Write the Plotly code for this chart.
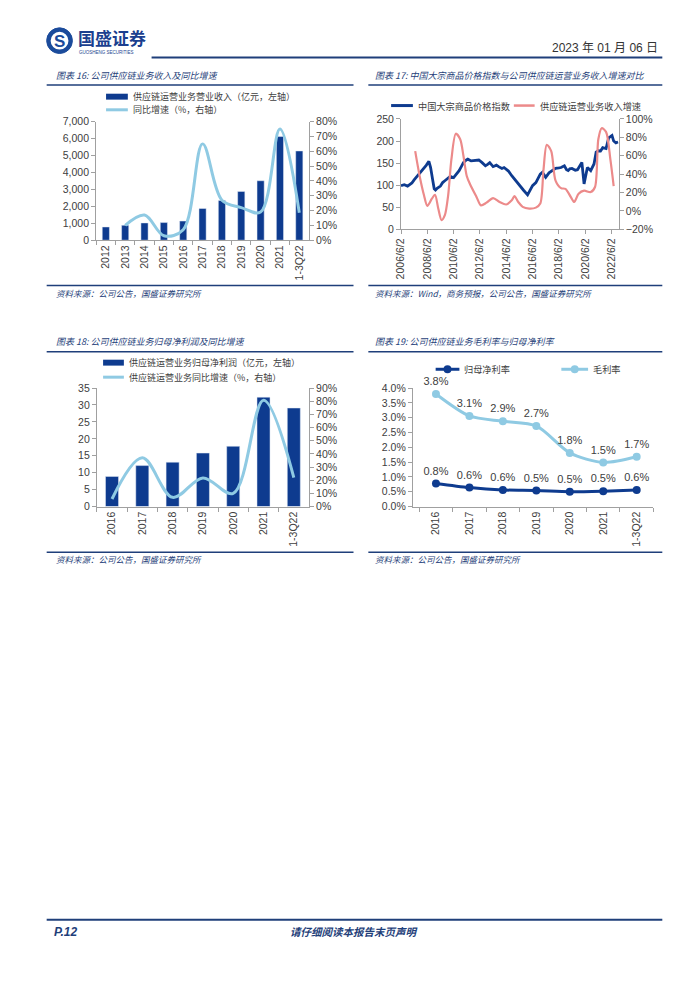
import plotly.graph_objects as go

# The page body adds an 8px margin around the figure, so the figure is sized
# to fit inside the 700x990 window and positions are given in page pixels.
PAGE_W, PAGE_H = 700, 990
OFF = 8
W, H = PAGE_W - 2 * OFF, PAGE_H - 2 * OFF


def px(x):
    return (x - OFF) / W


def py(y):
    return 1 - (y - OFF) / H


# ---------------- DATA ----------------
# Chart 16
years16 = ["2012", "2013", "2014", "2015", "2016", "2017", "2018", "2019", "2020", "2021", "1-3Q22"]
revenue16 = [780, 880, 1020, 1040, 1130, 1870, 2350, 2880, 3510, 6120, 5270]
growth16 = [None, 10, 17, 3, 7, 65, 27, 22, 19, 75, 18.5]

# Chart 17
cpi_dates = [
    "2006-06-02", "2006-09-01", "2006-12-01", "2007-02-01", "2007-04-01", "2007-06-01", "2007-09-01",
    "2007-12-01", "2008-03-01", "2008-05-01", "2008-07-15", "2008-09-01", "2008-11-01", "2008-12-10",
    "2009-01-15", "2009-03-01", "2009-06-01", "2009-08-01", "2009-10-01", "2010-01-01", "2010-03-01",
    "2010-06-01", "2010-09-01", "2010-11-01", "2011-01-01", "2011-03-01", "2011-05-01", "2011-07-01",
    "2011-10-01", "2012-02-01", "2012-05-01", "2012-08-01", "2012-11-01", "2013-01-01", "2013-03-01",
    "2013-06-01", "2013-09-01", "2013-11-01", "2014-02-01", "2014-04-01", "2014-06-01", "2014-08-01",
    "2014-11-01", "2015-01-01", "2015-03-01", "2015-05-01", "2015-07-01", "2015-10-01", "2016-01-15",
    "2016-04-01", "2016-06-01", "2016-09-01", "2016-11-01", "2017-01-01", "2017-03-01", "2017-06-01",
    "2017-09-01", "2017-11-01", "2018-01-01", "2018-03-01", "2018-06-01", "2018-08-01", "2018-11-01",
    "2019-01-01", "2019-02-15", "2019-04-01", "2019-06-01", "2019-09-01", "2019-11-01", "2020-01-01",
    "2020-03-01", "2020-05-01", "2020-08-01", "2020-11-01", "2021-02-01", "2021-04-01", "2021-06-01",
    "2021-08-01", "2021-10-01", "2022-01-01", "2022-02-01", "2022-03-15", "2022-05-01", "2022-06-15",
    "2022-08-01", "2022-10-01", "2022-12-01",
]
cpi_values = [
    99, 101, 98, 102, 105, 112, 121,
    130, 138, 145, 154, 140, 110, 92,
    89, 93, 98, 106, 110, 116, 120,
    117, 126, 133, 142, 151, 156, 159,
    155, 156, 157, 151, 144, 147, 151,
    142, 145.5, 142, 138, 140, 136.5, 132,
    121.5, 115, 110, 104, 95.5, 88, 78,
    90, 99, 106, 115.5, 125, 129, 118,
    128, 131, 135, 138, 139, 140, 144,
    135, 133, 137, 138, 134, 135, 145,
    151.5, 103, 140, 133, 148, 175, 178,
    177.5, 185, 183, 195, 207.5, 210, 212.6,
    200, 196, 198,
]
growth17_dates = [
    "2007-07-01", "2007-11-01", "2008-03-01", "2008-06-01", "2008-10-01", "2009-01-01", "2009-04-01",
    "2009-07-01", "2009-10-01", "2010-01-01", "2010-04-01", "2010-08-01", "2010-12-01", "2011-03-01",
    "2011-06-01", "2011-09-01", "2012-03-01", "2012-07-01", "2012-12-01", "2013-06-01", "2013-12-01",
    "2014-06-01", "2014-11-01", "2015-01-15", "2015-05-01", "2015-09-01", "2016-03-01", "2016-09-01",
    "2017-01-01", "2017-04-01", "2017-07-01", "2017-11-01", "2018-03-01", "2018-08-01", "2018-12-01",
    "2019-05-01", "2019-08-01", "2019-12-01", "2020-05-01", "2020-11-01", "2021-03-01", "2021-06-01",
    "2021-09-01", "2022-01-01", "2022-05-01", "2022-08-01",
]
growth17_values = [
    65, 38, 17, 5.5, 13, 17.6, 2.6,
    -10, -4.6, 17, 56, 84, 78, 60,
    38, 29, 15, 6, 9, 14, 9.7,
    7, 11.5, 16, 9.7, 4.4, 2.5, 3.6,
    8, 45, 72, 65, 33, 24.8, 24,
    15, 9.7, 18.7, 22, 20.5, 26, 78,
    90, 86, 56, 27,
]
tick_dates17 = ["2006-06-02", "2008-06-02", "2010-06-02", "2012-06-02", "2014-06-02",
                "2016-06-02", "2018-06-02", "2020-06-02", "2022-06-02"]
tick_text17 = ["2006/6/2", "2008/6/2", "2010/6/2", "2012/6/2", "2014/6/2",
               "2016/6/2", "2018/6/2", "2020/6/2", "2022/6/2"]

# Chart 18
years18 = ["2016", "2017", "2018", "2019", "2020", "2021", "1-3Q22"]
profit18 = [8.9, 12.1, 13.1, 15.8, 17.8, 32.3, 29.1]
growth18 = [5.75, 37, 7, 21.75, 10, 80.75, 22]

# Chart 19
years19 = ["2016", "2017", "2018", "2019", "2020", "2021", "1-3Q22"]
net_margin = [0.78, 0.64, 0.56, 0.54, 0.50, 0.52, 0.56]
gross_margin = [3.80, 3.06, 2.88, 2.72, 1.81, 1.49, 1.68]

# ---------------- STYLE ----------------
DARK = "#0E3B8F"
LIGHT = "#8FCAE3"
RED = "#EC8A8A"
NAVY = "#1F3F7A"
AXIS = "#A0A0A0"
TXT = "#404040"
NUM = "Liberation Sans, Noto Sans CJK SC, sans-serif"
CJK = "Noto Sans CJK SC, sans-serif"
TICKF = dict(family=NUM, size=10.5, color=TXT)

fig = go.Figure()

# Chart 16
fig.add_trace(go.Bar(x=years16, y=revenue16, marker_color=DARK, width=0.37,
                     xaxis="x", yaxis="y", showlegend=False))
fig.add_trace(go.Scatter(x=years16, y=growth16, mode="lines", xaxis="x", yaxis="y2",
                         line=dict(color=LIGHT, width=3, shape="spline", smoothing=1.0),
                         showlegend=False))
# Chart 17
fig.add_trace(go.Scatter(x=cpi_dates, y=cpi_values, mode="lines", xaxis="x2", yaxis="y3",
                         line=dict(color=DARK, width=2.8), showlegend=False))
fig.add_trace(go.Scatter(x=growth17_dates, y=growth17_values, mode="lines", xaxis="x2", yaxis="y4",
                         line=dict(color=RED, width=2.2, shape="spline", smoothing=0.8),
                         showlegend=False))
# Chart 18
fig.add_trace(go.Bar(x=years18, y=profit18, marker_color=DARK, width=0.43,
                     xaxis="x3", yaxis="y5", showlegend=False))
fig.add_trace(go.Scatter(x=years18, y=growth18, mode="lines", xaxis="x3", yaxis="y6",
                         line=dict(color=LIGHT, width=3, shape="spline", smoothing=1.0),
                         showlegend=False))
# Chart 19
fig.add_trace(go.Scatter(x=years19, y=gross_margin, mode="lines+markers+text", xaxis="x4", yaxis="y7",
                         line=dict(color=LIGHT, width=3, shape="spline", smoothing=0.8),
                         marker=dict(color=LIGHT, size=8), cliponaxis=False,
                         texttemplate="%{y:.1f}%", textposition="top center",
                         textfont=dict(family=NUM, size=11, color=TXT), showlegend=False))
fig.add_trace(go.Scatter(x=years19, y=net_margin, mode="lines+markers+text", xaxis="x4", yaxis="y7",
                         line=dict(color=DARK, width=3, shape="spline", smoothing=0.8),
                         marker=dict(color=DARK, size=8), cliponaxis=False,
                         texttemplate="%{y:.1f}%", textposition="top center",
                         textfont=dict(family=NUM, size=11, color=TXT), showlegend=False))


def cat_x(domain, rng=None):
    d = dict(domain=[px(domain[0]), px(domain[1])], showline=True, linecolor=AXIS, linewidth=1,
             ticks="outside", ticklen=4, tickcolor=AXIS, tickangle=-90, tickfont=TICKF,
             showgrid=False, zeroline=False, tickson="boundaries", fixedrange=True)
    if rng is not None:
        d["range"] = rng
    return d


def val_y(domain, rng, dtick, side="left", fmt=None, suffix=None, anchor=None, overlay=None):
    d = dict(domain=[py(domain[1]), py(domain[0])], range=rng, dtick=dtick, side=side,
             showline=True, linecolor=AXIS, linewidth=1, ticks="outside", ticklen=4,
             tickcolor=AXIS, tickfont=TICKF, showgrid=False, zeroline=False, fixedrange=True)
    if fmt:
        d["tickformat"] = fmt
    if suffix:
        d["ticksuffix"] = suffix
    if anchor:
        d["anchor"] = anchor
    if overlay:
        d["overlaying"] = overlay
        d.pop("domain")
    return d


layout = dict(
    width=W, height=H, margin=dict(l=0, r=0, t=0, b=0),
    paper_bgcolor="white", plot_bgcolor="white", showlegend=False,
    xaxis=dict(cat_x((90, 305)), anchor="y"),
    yaxis=val_y((117, 237), [0, 7000], 1000, fmt=",", anchor="x"),
    yaxis2=val_y((117, 237), [0, 80], 10, side="right", suffix="%", anchor="x", overlay="y"),
    xaxis2=dict(domain=[px(398), px(618)], anchor="y3", type="date",
                range=["2006-06-02", "2022-12-20"], tickvals=tick_dates17, ticktext=tick_text17,
                tickangle=-90, tickfont=TICKF, showline=True, linecolor=AXIS, ticks="outside",
                ticklen=4, tickcolor=AXIS, showgrid=False, zeroline=False, fixedrange=True),
    yaxis3=val_y((114.3, 226), [0, 250], 50, anchor="x2"),
    yaxis4=val_y((114.3, 226), [-20, 100], 20, side="right", suffix="%", anchor="x2", overlay="y3"),
    xaxis3=dict(cat_x((90.7, 305)), anchor="y5"),
    yaxis5=val_y((386.7, 506.7), [0, 35], 5, anchor="x3"),
    yaxis6=val_y((386.7, 506.7), [0, 90], 10, side="right", suffix="%", anchor="x3", overlay="y5"),
    xaxis4=dict(cat_x((410, 653), rng=[-0.69, 6.5]), anchor="y7"),
    yaxis7=val_y((386.7, 506.7), [0, 4.0], 0.5, fmt=".1f", suffix="%", anchor="x4"),
)
fig.update_layout(**layout)

shapes = []
annotations = []


def hline(x0, x1, y, color=NAVY, width=1.5):
    shapes.append(dict(type="line", xref="paper", yref="paper", x0=px(x0), x1=px(x1),
                       y0=py(y), y1=py(y), line=dict(color=color, width=width)))


def text(x, y, s, size=9, color=TXT, anchor="left", family=CJK, italic=False, bold=False):
    annotations.append(dict(xref="paper", yref="paper", x=px(x), y=py(y), text=s, showarrow=False,
                            xanchor=anchor, yanchor="middle",
                            font=dict(family=family, size=size, color=color,
                                      style="italic" if italic else "normal",
                                      weight="bold" if bold else "normal")))


def legend_bar(x0, x1, y, h=6):
    shapes.append(dict(type="rect", xref="paper", yref="paper", x0=px(x0), x1=px(x1),
                       y0=py(y + h / 2), y1=py(y - h / 2), fillcolor=DARK, line=dict(width=0)))


def legend_line(x0, x1, y, color, width=3, marker=False):
    shapes.append(dict(type="line", xref="paper", yref="paper", x0=px(x0), x1=px(x1),
                       y0=py(y), y1=py(y), line=dict(color=color, width=width)))
    if marker:
        cx = (x0 + x1) / 2
        shapes.append(dict(type="circle", xref="paper", yref="paper", x0=px(cx - 4), x1=px(cx + 4),
                           y0=py(y + 4), y1=py(y - 4), fillcolor=color, line=dict(width=0)))


# Header
shapes.append(dict(type="circle", xref="paper", yref="paper", x0=px(40), x1=px(66),
                   y0=py(48), y1=py(22), fillcolor="#1B4B9B", line=dict(color="#1B4B9B", width=1)))
shapes.append(dict(type="circle", xref="paper", yref="paper", x0=px(44), x1=px(62),
                   y0=py(44), y1=py(26), fillcolor="white", line=dict(width=0)))
text(53, 35.5, "S", size=17, color="#1B4B9B", anchor="center", family=NUM, bold=True)
text(70, 32, "国盛证券", size=17, color="#1B3F8F", bold=True)
text(71, 47, "GUOSHENG SECURITIES", size=4.5, color="#1B3F8F", family=NUM)
hline(146, 662, 52, width=2)
text(660, 42, "2023 年 01 月 06 日", size=12, color="#333333", anchor="right", family=NUM)

# Section titles and rules
text(47, 70, "图表 16: 公司供应链业务收入及同比增速", size=9, color=NAVY, italic=True)
text(370, 70, "图表 17: 中国大宗商品价格指数与公司供应链运营业务收入增速对比", size=9, color=NAVY, italic=True)
text(47, 340, "图表 18: 公司供应链业务归母净利润及同比增速", size=9, color=NAVY, italic=True)
text(370, 340, "图表 19: 公司供应链业务毛利率与归母净利率", size=9, color=NAVY, italic=True)
for y in (80, 283, 350, 553):
    hline(40, 350, y)
    hline(365, 662, y)
text(47, 290, "资料来源：公司公告，国盛证券研究所", size=8.5, color=NAVY, italic=True)
text(370, 290, "资料来源：Wind，商务预报，公司公告，国盛证券研究所", size=8.5, color=NAVY, italic=True)
text(47, 560, "资料来源：公司公告，国盛证券研究所", size=8.5, color=NAVY, italic=True)
text(370, 560, "资料来源：公司公告，国盛证券研究所", size=8.5, color=NAVY, italic=True)

# Legends
legend_bar(100, 122, 91.7)
text(125, 91.7, "供应链运营业务营业收入（亿元，左轴）", size=9)
legend_line(100, 122, 105, LIGHT)
text(125, 105, "同比增速（%，右轴）", size=9)

legend_line(388, 410, 100.7, DARK)
text(413, 100.7, "中国大宗商品价格指数", size=9.2)
legend_line(512, 533, 100.7, RED, width=2.5)
text(536, 100.7, "供应链运营业务收入增速", size=9.2)

legend_bar(97, 118, 361)
text(121, 361, "供应链运营业务归母净利润（亿元，左轴）", size=9)
legend_line(97, 118, 375.7, LIGHT)
text(121, 375.7, "供应链运营业务同比增速（%，右轴）", size=9)

legend_line(433, 457, 367.7, DARK, marker=True)
text(460, 367.7, "归母净利率", size=9.2)
legend_line(560, 587, 367.7, LIGHT, marker=True)
text(590, 367.7, "毛利率", size=9.2)

# Footer
hline(40, 662, 925, width=2)
text(45, 937, "P.12", size=12, color=NAVY, family=NUM, italic=True, bold=True)
text(350, 937, "请仔细阅读本报告末页声明", size=10.5, color=NAVY, anchor="center", italic=True, bold=True)

fig.update_layout(shapes=shapes, annotations=annotations)
fig.write_html("out.html")
